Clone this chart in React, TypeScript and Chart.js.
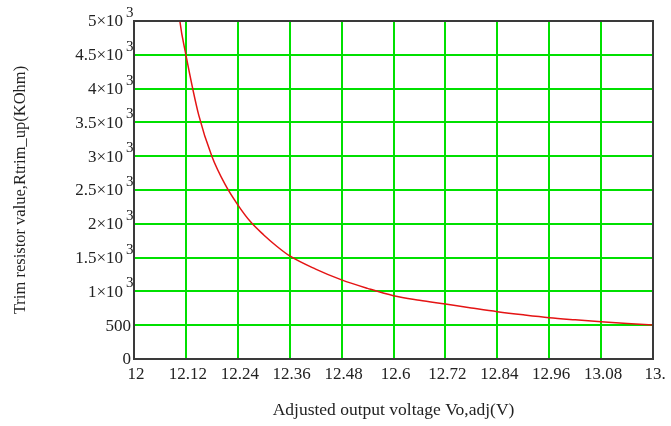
import { useEffect, useRef } from "react";
import { Chart, registerables } from "chart.js";

Chart.register(...registerables);

const voltages = [12.1, 12.106, 12.12, 12.15, 12.18, 12.21, 12.24, 12.27, 12.3, 12.33, 12.36, 12.42, 12.48, 12.54, 12.6, 12.66, 12.72, 12.78, 12.84, 12.9, 12.96, 13.02, 13.08, 13.14, 13.2];
const resistances = [5400, 5000, 4500, 3600, 3000, 2590, 2280, 2025, 1835, 1668, 1525, 1330, 1170, 1045, 936, 868, 812, 755, 700, 653, 611, 580, 552, 526, 503];

const xTickValues = [12, 12.12, 12.24, 12.36, 12.48, 12.6, 12.72, 12.84, 12.96, 13.08, 13.2];
const xTickLabels = ["12", "12.12", "12.24", "12.36", "12.48", "12.6", "12.72", "12.84", "12.96", "13.08", "13."];

const yTickValues = [0, 500, 1000, 1500, 2000, 2500, 3000, 3500, 4000, 4500, 5000];
const yTickBase = ["0", "500", "1×10", "1.5×10", "2×10", "2.5×10", "3×10", "3.5×10", "4×10", "4.5×10", "5×10"];
const yTickSup = ["", "", "3", "3", "3", "3", "3", "3", "3", "3", "3"];

const xTitle = "Adjusted output voltage Vo,adj(V)";
const yTitle = "Trim resistor value,Rtrim_up(KOhm)";

const FONT = "'Liberation Serif', 'Times New Roman', serif";
const TEXT = "#222";

const overlayPlugin = {
  id: "overlay",
  afterDraw(chart: any) {
    const { ctx, chartArea } = chart;
    const y = chart.scales.y;
    ctx.save();
    // plot frame
    ctx.strokeStyle = "#3a3a3a";
    ctx.lineWidth = 2;
    ctx.strokeRect(chartArea.left, chartArea.top, chartArea.right - chartArea.left, chartArea.bottom - chartArea.top);
    // y tick labels with superscripts
    ctx.fillStyle = TEXT;
    ctx.textBaseline = "middle";
    yTickValues.forEach((v, i) => {
      const py = y.getPixelForValue(v);
      const sup = yTickSup[i];
      ctx.font = `17px ${FONT}`;
      if (sup) {
        ctx.textAlign = "right";
        ctx.fillText(yTickBase[i], chartArea.left - 11, py + 1);
        ctx.font = `15px ${FONT}`;
        ctx.textAlign = "left";
        ctx.fillText(sup, chartArea.left - 8, py - 8);
      } else {
        ctx.textAlign = "right";
        ctx.fillText(yTickBase[i], chartArea.left - 3, py + 1);
      }
    });
    ctx.restore();
  },
};

export default function App() {
  const ref = useRef<HTMLCanvasElement>(null);
  useEffect(() => {
    if (!ref.current) return;
    const chart = new Chart(ref.current, {
      type: "line",
      data: {
        datasets: [
          {
            data: voltages.map((v, i) => ({ x: v, y: resistances[i] })),
            borderColor: "rgb(228,20,20)",
            borderWidth: 1.5,
            pointRadius: 0,
            fill: false,
            cubicInterpolationMode: "monotone",
          },
        ],
      },
      options: {
        responsive: false,
        animation: false,
        layout: { padding: { top: 21, right: 18, left: 0, bottom: 0 } },
        plugins: { legend: { display: false }, tooltip: { enabled: false } },
        scales: {
          x: {
            type: "linear",
            min: 12,
            max: 13.2,
            afterBuildTicks: (s: any) => {
              s.ticks = xTickValues.map((v) => ({ value: v }));
            },
            afterFit: (s: any) => {
              s.height = 67;
            },
            ticks: {
              callback: (_v: any, i: number) => xTickLabels[i],
              font: { family: FONT, size: 17 },
              color: TEXT,
              padding: 5,
              maxRotation: 0,
              autoSkip: false,
              labelOffset: 2,
            },
            grid: { color: "#00e000", lineWidth: 2, drawTicks: false },
            border: { display: false },
            title: {
              display: true,
              text: xTitle,
              font: { family: FONT, size: 17.5 },
              color: TEXT,
              padding: { top: 0, bottom: 5 },
            },
          },
          y: {
            type: "linear",
            min: 0,
            max: 5000,
            afterBuildTicks: (s: any) => {
              s.ticks = yTickValues.map((v) => ({ value: v }));
            },
            afterFit: (s: any) => {
              s.width = 134;
            },
            ticks: { display: false },
            grid: { color: "#00e000", lineWidth: 2, drawTicks: false },
            border: { display: false },
            title: {
              display: true,
              text: yTitle,
              font: { family: FONT, size: 16.5 },
              color: TEXT,
              padding: { top: 11, bottom: 0 },
            },
          },
        },
      },
      plugins: [overlayPlugin],
    } as any);
    return () => chart.destroy();
  }, []);
  return (
    <div style={{ position: "fixed", left: 0, top: 0, width: 671, height: 426, background: "#fff" }}>
      <canvas ref={ref} width={671} height={426} style={{ display: "block" }} />
    </div>
  );
}
